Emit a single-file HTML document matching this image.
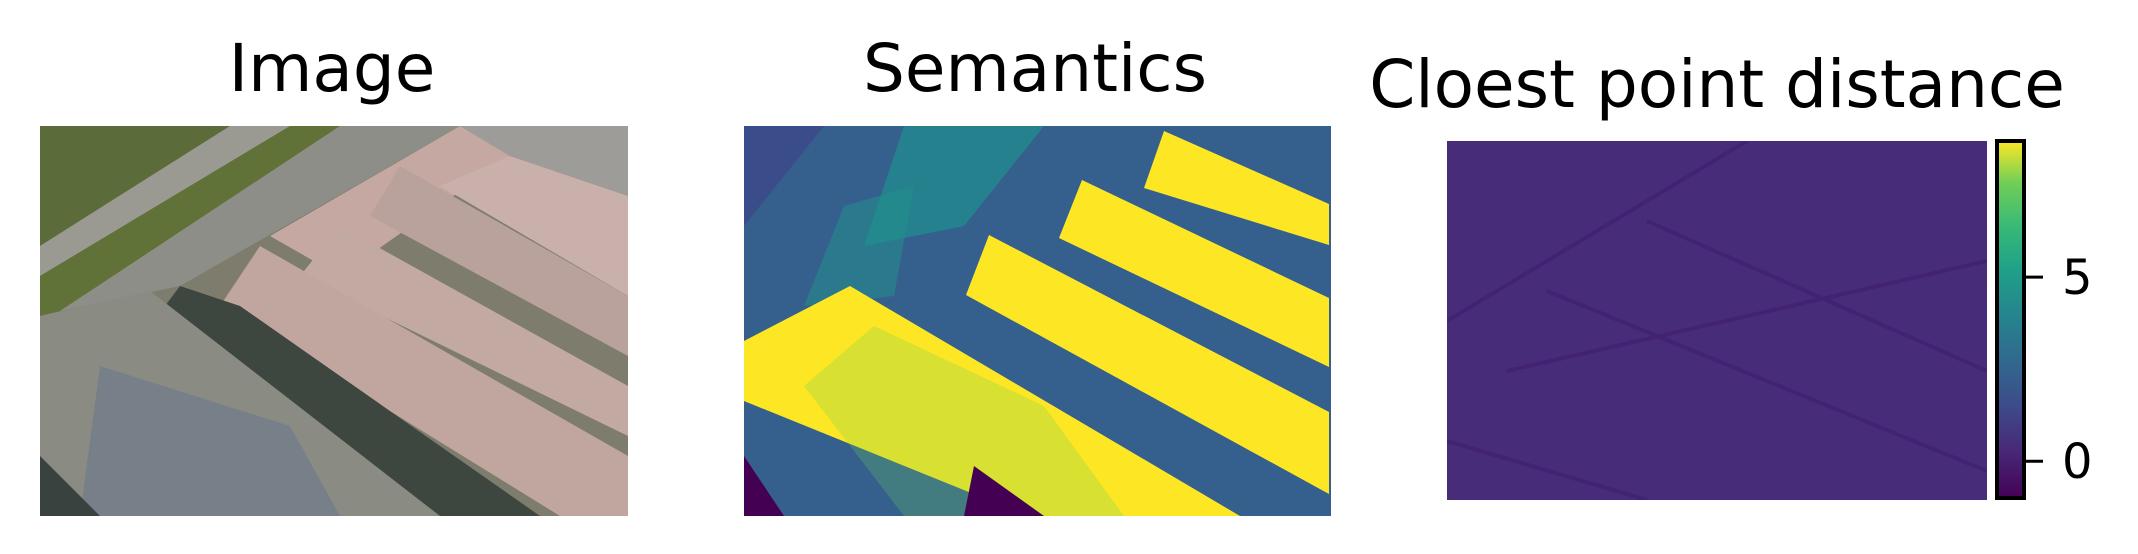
<!DOCTYPE html>
<html><head><meta charset="utf-8"><style>
html,body{margin:0;padding:0;background:#fff;width:2138px;height:554px;overflow:hidden}
.t{position:absolute;font-family:"DejaVu Sans","Liberation Sans",sans-serif;font-size:66px;color:#000;white-space:nowrap;transform:translateX(-50%)}
svg{position:absolute}
</style></head><body>
<div class="t" style="left:332px;top:30px">Image</div>
<div class="t" style="left:1035px;top:30px">Semantics</div>
<div class="t" style="left:1717px;top:46px">Cloest point distance</div>

<svg style="left:40px;top:126px" width="588" height="390" viewBox="0 0 588 390">
<rect width="588" height="390" fill="#7e7c6c"/>
<polygon points="0,0 190,0 0,120" fill="#5c6b3a"/>
<polygon points="190,0 250,0 0,150 0,120" fill="#9a9a92"/>
<polygon points="250,0 300,0 20,185 0,190 0,150" fill="#617238"/>
<polygon points="300,0 420,0 140,160 20,185" fill="#8e8e88"/>
<polygon points="420,0 588,0 588,70 470,30" fill="#9e9c98"/>
<polygon points="420,0 470,30 300,150 230,110" fill="#c6a8a2"/>
<polygon points="470,30 588,70 588,170 400,60" fill="#c9b0ab"/>
<polygon points="360,40 588,170 588,230 330,90" fill="#b9a29c"/>
<polygon points="300,100 588,260 588,310 260,150" fill="#c2aaa2"/>
<polygon points="220,120 588,330 588,390 520,390 180,180" fill="#c1a69f"/>
<polygon points="140,160 200,180 500,390 400,390 110,200" fill="#3e4640"/>
<polygon points="0,190 110,165 400,390 0,390" fill="#8a8b82"/>
<polygon points="60,240 250,300 300,390 40,390" fill="#6a7a8e" opacity="0.6"/>
<polygon points="0,330 60,390 0,390" fill="#3a4240"/>
</svg>

<svg style="left:744px;top:126px" width="587" height="390" viewBox="0 0 587 390" preserveAspectRatio="none">
<rect width="587" height="390" fill="#35608d"/>
<polygon points="160,0 300,0 220,100 120,120" fill="#23898e" opacity="0.8"/>
<polygon points="100,80 170,60 150,170 60,180" fill="#21918c" opacity="0.5"/>
<polygon points="0,0 80,0 0,100" fill="#3a4c8a"/>
<polygon points="106,160 0,215 0,275 284,390 496,390" fill="#fde725"/>
<polygon points="245,109 222,169 585,368 585,286" fill="#fde725"/>
<polygon points="338,54 315,112 585,241 585,172" fill="#fde725"/>
<polygon points="420,5 400,62 585,119 585,78" fill="#fde725"/>
<polygon points="130,200 300,280 380,390 160,390 60,260" fill="#6ccd5a" opacity="0.25"/>
<polygon points="0,330 40,390 0,390" fill="#440154"/>
<polygon points="230,340 300,390 220,390" fill="#440154"/>
</svg>

<svg style="left:1447px;top:141px" width="540" height="359" viewBox="0 0 540 359">
<rect width="540" height="359" fill="#472c7a"/>
<g stroke="#3f1a6e" stroke-width="4" opacity="0.5">
<line x1="0" y1="180" x2="300" y2="0"/><line x1="60" y1="230" x2="540" y2="120"/>
<line x1="100" y1="150" x2="540" y2="330"/><line x1="200" y1="80" x2="540" y2="230"/>
<line x1="0" y1="300" x2="200" y2="359"/>
</g>
</svg>

<svg style="left:1990px;top:130px" width="148" height="380" viewBox="1990 130 148 380">
<defs><linearGradient id="vir" x1="0" y1="1" x2="0" y2="0">
<stop offset="0" stop-color="#440154"/><stop offset="0.13" stop-color="#482878"/><stop offset="0.25" stop-color="#3e4989"/><stop offset="0.38" stop-color="#31688e"/><stop offset="0.5" stop-color="#26828e"/><stop offset="0.63" stop-color="#1f9e89"/><stop offset="0.75" stop-color="#35b779"/><stop offset="0.88" stop-color="#6ece58"/><stop offset="1" stop-color="#fde725"/></linearGradient></defs>
<rect x="1997" y="141" width="27" height="357" fill="url(#vir)" stroke="#000" stroke-width="4"/>
<g id="ticks"></g>
</svg>
<script>
const tickValues=[0,5];
const tickLabels=["0","5"];
const vmin=-1, vmax=8.7;
const y=v=>498-(v-vmin)/(vmax-vmin)*357;
const g=document.getElementById('ticks');
const ns='http://www.w3.org/2000/svg';
tickValues.forEach((v,i)=>{
 const l=document.createElementNS(ns,'line');
 l.setAttribute('x1',2026);l.setAttribute('x2',2043);l.setAttribute('y1',y(v));l.setAttribute('y2',y(v));
 l.setAttribute('stroke','#000');l.setAttribute('stroke-width','3');
 
 
 g.appendChild(l);
 const t=document.createElementNS(ns,'text');
 t.setAttribute('x',2062);t.setAttribute('y',y(v)+17);
 t.setAttribute('font-family','DejaVu Sans, Liberation Sans, sans-serif');t.setAttribute('font-size','48');
 t.textContent=tickLabels[i];
 
 
 g.appendChild(t);
});
</script>
</body></html>
